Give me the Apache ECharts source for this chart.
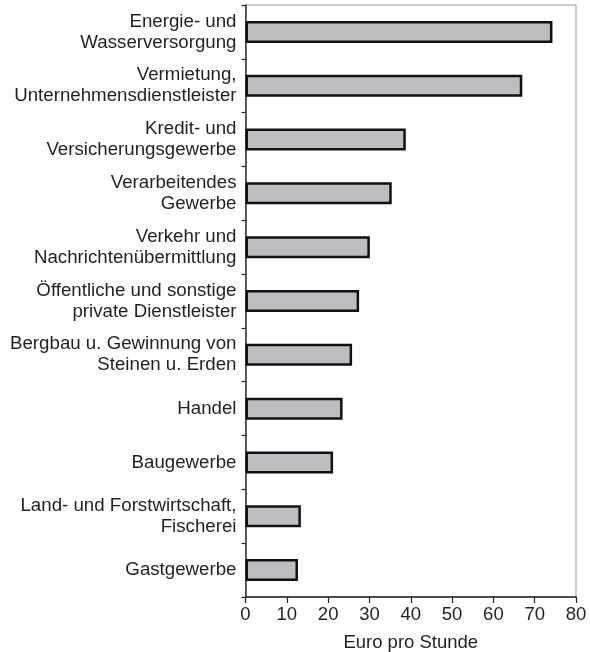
<!DOCTYPE html>
<html>
<head>
<meta charset="utf-8">
<script src="https://cdn.jsdelivr.net/npm/echarts@6/dist/echarts.min.js"></script>
<style>
  html, body { margin: 0; padding: 0; background: #fff; }
  #main { width: 590px; height: 652px; }
</style>
</head>
<body>
<div id="main"></div>
<script>
// Branchen, von oben nach unten
var branchen = [
    'Energie- und\nWasserversorgung',
    'Vermietung,\nUnternehmensdienstleister',
    'Kredit- und\nVersicherungsgewerbe',
    'Verarbeitendes\nGewerbe',
    'Verkehr und\nNachrichtenübermittlung',
    'Öffentliche und sonstige\nprivate Dienstleister',
    'Bergbau u. Gewinnung von\nSteinen u. Erden',
    'Handel',
    'Baugewerbe',
    'Land- und Forstwirtschaft,\nFischerei',
    'Gastgewerbe'
];
// Euro pro Stunde
var werte = [74.3, 67.0, 38.8, 35.4, 30.1, 27.5, 25.8, 23.5, 21.2, 13.4, 12.7];
var xTicks = [0, 10, 20, 30, 40, 50, 60, 70, 80];

var textColor = '#231f20';
var myChart = echarts.init(document.getElementById('main'));
var option = {
    animation: false,
    textStyle: { fontFamily: 'Liberation Sans, Arial, sans-serif' },
    grid: {
        left: 245.5, right: 14, top: 5, bottom: 55,
        outerBoundsMode: 'none',
        containLabel: false,
        show: true, borderColor: '#9a9a9a', borderWidth: 1
    },
    xAxis: {
        type: 'value',
        min: xTicks[0],
        max: xTicks[xTicks.length - 1],
        interval: 10,
        name: 'Euro pro Stunde',
        nameLocation: 'middle',
        nameGap: 36,
        nameTextStyle: { fontSize: 18.5, color: textColor },
        axisLine: { show: true, lineStyle: { color: '#222', width: 1.5 } },
        axisTick: { show: true, length: 6, lineStyle: { color: '#222', width: 1.2 } },
        axisLabel: { fontSize: 18.5, color: textColor, margin: 8 },
        splitLine: { show: false }
    },
    yAxis: {
        type: 'category',
        inverse: true,
        data: branchen,
        axisLine: { show: true, lineStyle: { color: '#333', width: 1.5 } },
        axisTick: { show: true, length: 4, lineStyle: { color: '#222', width: 1.2 } },
        axisLabel: {
            fontSize: 18.7, color: textColor, margin: 9,
            lineHeight: 21, align: 'right'
        }
    },
    series: [{
        type: 'bar',
        data: werte,
        barWidth: 22,
        itemStyle: { color: '#bcbdc1', borderColor: '#111', borderWidth: 2.5 }
    }]
};
myChart.setOption(option);
</script>
</body>
</html>
